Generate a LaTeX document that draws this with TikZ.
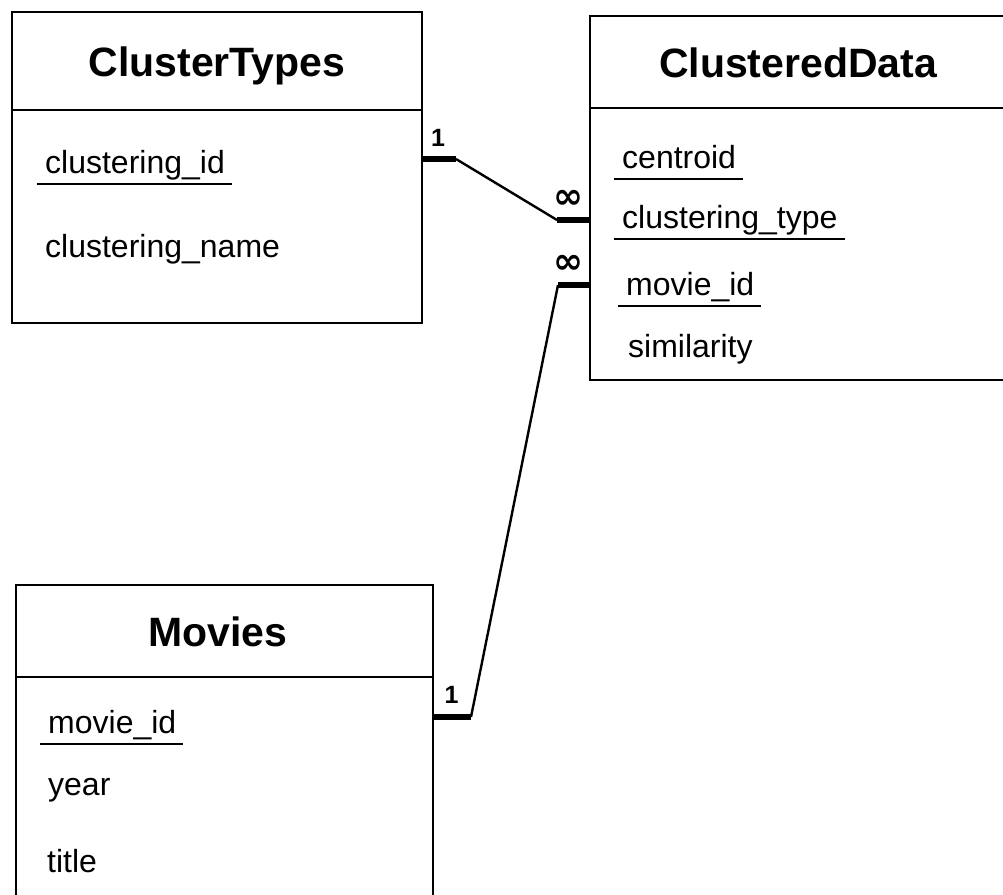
\documentclass[tikz,border=0pt]{standalone}
\usepackage{fontspec}
\setmainfont{Liberation Sans}
\newfontfamily\symfont{DejaVu Sans}
\usetikzlibrary{positioning}
\tikzset{
  head/.style={draw, line width=2pt, outer sep=0pt, inner sep=0pt,
    text height=30pt, text depth=0pt,
    font=\fontsize{41}{48}\selectfont\bfseries},
  body/.style={draw, line width=2pt, outer sep=0pt, inner sep=0pt},
  attr/.style={anchor=base west, inner sep=0pt, text height=24pt,
    text depth=11pt, font=\fontsize{32}{38}\selectfont},
  uline/.style={line width=1.6pt},
  link/.style={line width=2.4pt},
  stub/.style={line width=5.5pt},
  card/.style={inner sep=0pt, font=\fontsize{25}{28}\selectfont\bfseries},
  many/.style={inner sep=0pt, font=\fontsize{36}{36}\selectfont\symfont\bfseries}
}
\def\Key#1{\draw[uline] ([xshift=-8pt]#1.south west) -- ([xshift=7pt]#1.south east);}
\begin{document}
\begin{tikzpicture}[x=1pt,y=-1pt]
  \useasboundingbox (0,0) rectangle (1003,894);
  \clip (0,0) rectangle (1003,894);
  % The three tables
  \node[head, minimum width=410pt, minimum height=98pt, anchor=north west]
    (types) at (12,12) {ClusterTypes};
  \node[body, minimum width=410pt, minimum height=213pt, below=0pt of types]
    (types body) {};
  \node[head, minimum width=416pt, minimum height=92pt, anchor=north west]
    (data) at (590,16) {ClusteredData};
  \node[body, minimum width=416pt, minimum height=272pt, below=0pt of data]
    (data body) {};
  \node[head, minimum width=417pt, minimum height=92pt, anchor=north west]
    (movies) at (16,585) {Movies\hspace*{14pt}};
  \node[body, minimum width=417pt, minimum height=300pt, below=0pt of movies]
    (movies body) {};
  % Columns
  \node[attr] (types id) at (45,173) {clustering\_id};
  \node[attr] (types name) at (45,257) {clustering\_name};
  \node[attr] (data centroid) at (622,168) {centroid};
  \node[attr] (data type) at (622,228) {clustering\_type};
  \node[attr] (data movie) at (626,295) {movie\_id};
  \node[attr] (data sim) at (628,357) {similarity};
  \node[attr] (movies id) at (48,733) {movie\_id};
  \node[attr] (movies year) at (48,795) {year};
  \node[attr] (movies title) at (47,872) {title};
  % Underline the keys
  \Key{types id}
  \Key{data centroid}
  \Key{data type}
  \Key{data movie}
  \Key{movies id}
  % ClusterTypes to ClusteredData
  \coordinate (types port) at (types body.east |- 0,159);
  \coordinate (data type port) at (data body.west |- 0,220);
  \draw[stub] (types port) -- ++(34,0) coordinate (t1);
  \draw[stub] (data type port) -- ++(-33,0) coordinate (t2);
  \draw[link] (t1) -- (t2);
  \node[card, above right=12.5pt and 9pt of types port] (one a) {1};
  \node[many, above left=11pt and 6pt of data type port] (inf a) {∞};
  % Movies to ClusteredData
  \coordinate (movies port) at (movies body.east |- 0,717);
  \coordinate (data movie port) at (data body.west |- 0,285);
  \draw[stub] (movies port) -- ++(38,0) coordinate (m1);
  \draw[stub] (data movie port) -- ++(-32,0) coordinate (m2);
  \draw[link] (m1) -- (m2);
  \node[card, above right=13.5pt and 11.5pt of movies port] (one b) {1};
  \node[many, above left=11pt and 6pt of data movie port] (inf b) {∞};
\end{tikzpicture}
\end{document}
